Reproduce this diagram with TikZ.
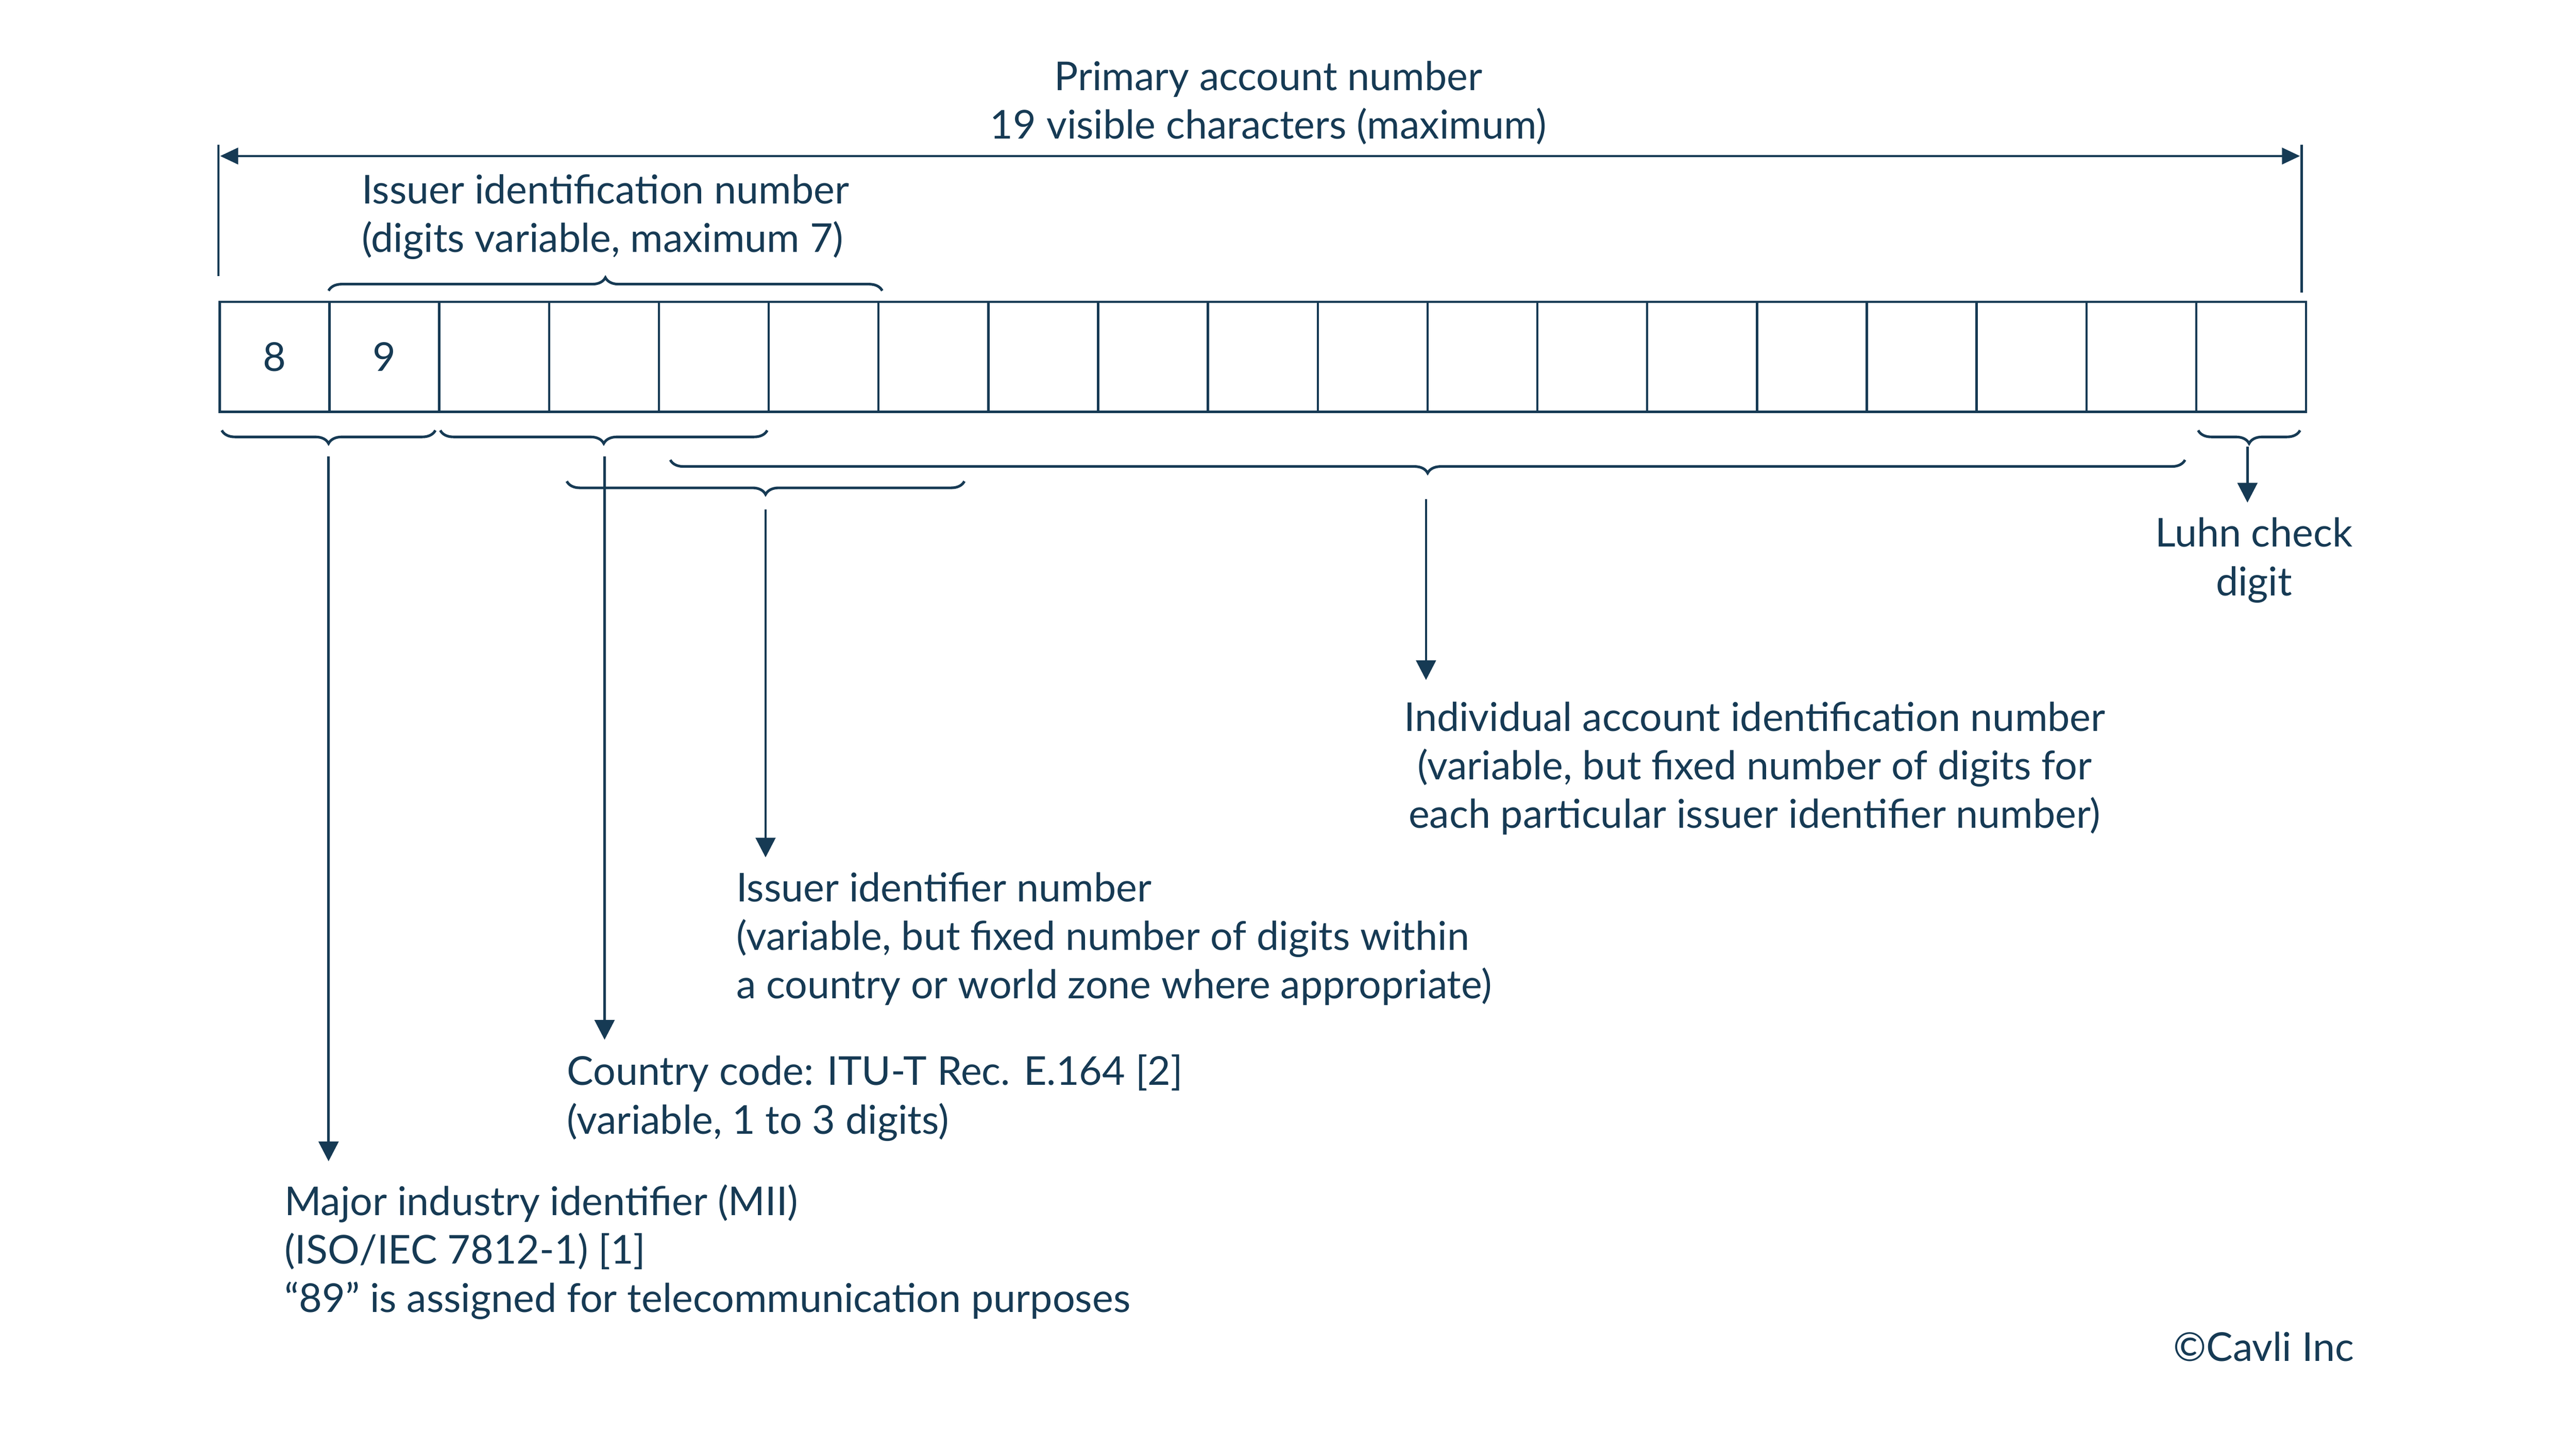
\documentclass[tikz,border=0pt]{standalone}
\usepackage{fontspec}
\setmainfont{Lato}
\usetikzlibrary{decorations.pathreplacing,arrows.meta}
\definecolor{navy}{HTML}{163A54}
\begin{document}
\begin{tikzpicture}[x=1pt,y=-1pt,
  every node/.style={text=navy,font=\fontsize{24.2}{29.5}\selectfont},
  lbl/.style={align=left,anchor=north west,inner sep=0},
  brc/.style={draw=navy,line width=1.6pt,decorate,decoration={brace,amplitude=8pt}},
  arr/.style={draw=navy,line width=1.5pt,-{Triangle[length=12pt,width=12pt]}}]
\useasboundingbox (0,0) rectangle (1568,882);
% boxes
\foreach \i in {0,...,18}{
  \node[draw=navy,line width=1.4pt,minimum width=66.84pt,minimum height=67pt,inner sep=0,anchor=north west] (b\i) at ({133+\i*66.84},183) {};
}
\node at (b0) {8};
\node at (b1) {9};
% dimension line
\coordinate (dl1) at (133,88); \coordinate (dl2) at (133,168);
\coordinate (dr1) at (1401,88); \coordinate (dr2) at (1401,178);
\draw[navy,line width=1.4pt] (dl1)--(dl2) (dr1)--(dr2);
\coordinate (a1) at (134,95); \coordinate (a2) at (1400,95);
\draw[navy,line width=1.4pt,{Triangle[length=11pt,width=10pt]}-{Triangle[length=11pt,width=10pt]}] (a1)--(a2);
\node[align=center,inner sep=0,anchor=north] (title) at (772,37) {Primary account number\\19 visible characters (maximum)};
% top brace
\coordinate (t1) at (200,177); \coordinate (t2) at (537,177);
\draw[brc] (t1)--(t2);
\node[lbl] (iin) at (220,106) {Issuer identification number\\(digits variable, maximum 7)};
% bottom braces
\coordinate (m1) at (265,262); \coordinate (m2) at (135,262);
\draw[brc] (m1)--(m2);
\coordinate (c1) at (467,262); \coordinate (c2) at (268,262);
\draw[brc] (c1)--(c2);
\coordinate (i1) at (587,293); \coordinate (i2) at (345,293);
\draw[brc] (i1)--(i2);
\coordinate (n1) at (1330,280); \coordinate (n2) at (408,280);
\draw[brc] (n1)--(n2);
\coordinate (l1) at (1400,262); \coordinate (l2) at (1338,262);
\draw[brc] (l1)--(l2);
% labels
\node[lbl] (mii) at (173,721) {Major industry identifier (MII)\\(ISO/IEC 7812-1) [1]\\“89” is assigned for telecommunication purposes};
\node[lbl] (cc) at (345,642) {Country code: ITU-T Rec. E.164 [2]\\(variable, 1 to 3 digits)};
\node[lbl] (isn) at (448,531) {Issuer identifier number\\(variable, but fixed number of digits within\\a country or world zone where appropriate)};
\node[align=center,inner sep=0,anchor=north] (ind) at (1068,427) {Individual account identification number\\(variable, but fixed number of digits for\\each particular issuer identifier number)};
\node[align=center,inner sep=0,anchor=north] (luhn) at (1372,315) {Luhn check\\digit};
\node[anchor=east,inner sep=0] (cav) at (1433,820) {©Cavli Inc};
% arrows
\coordinate (s1) at (200,278); \coordinate (e1) at (200,707);
\draw[arr] (s1)--(e1);
\coordinate (s2) at (368,278); \coordinate (e2) at (368,633);
\draw[arr] (s2)--(e2);
\coordinate (s3) at (466,310); \coordinate (e3) at (466,522);
\draw[arr] (s3)--(e3);
\coordinate (s4) at (868,304); \coordinate (e4) at (868,414);
\draw[arr] (s4)--(e4);
\coordinate (s5) at (1368,272); \coordinate (e5) at (1368,306);
\draw[arr] (s5)--(e5);
\end{tikzpicture}
\end{document}
